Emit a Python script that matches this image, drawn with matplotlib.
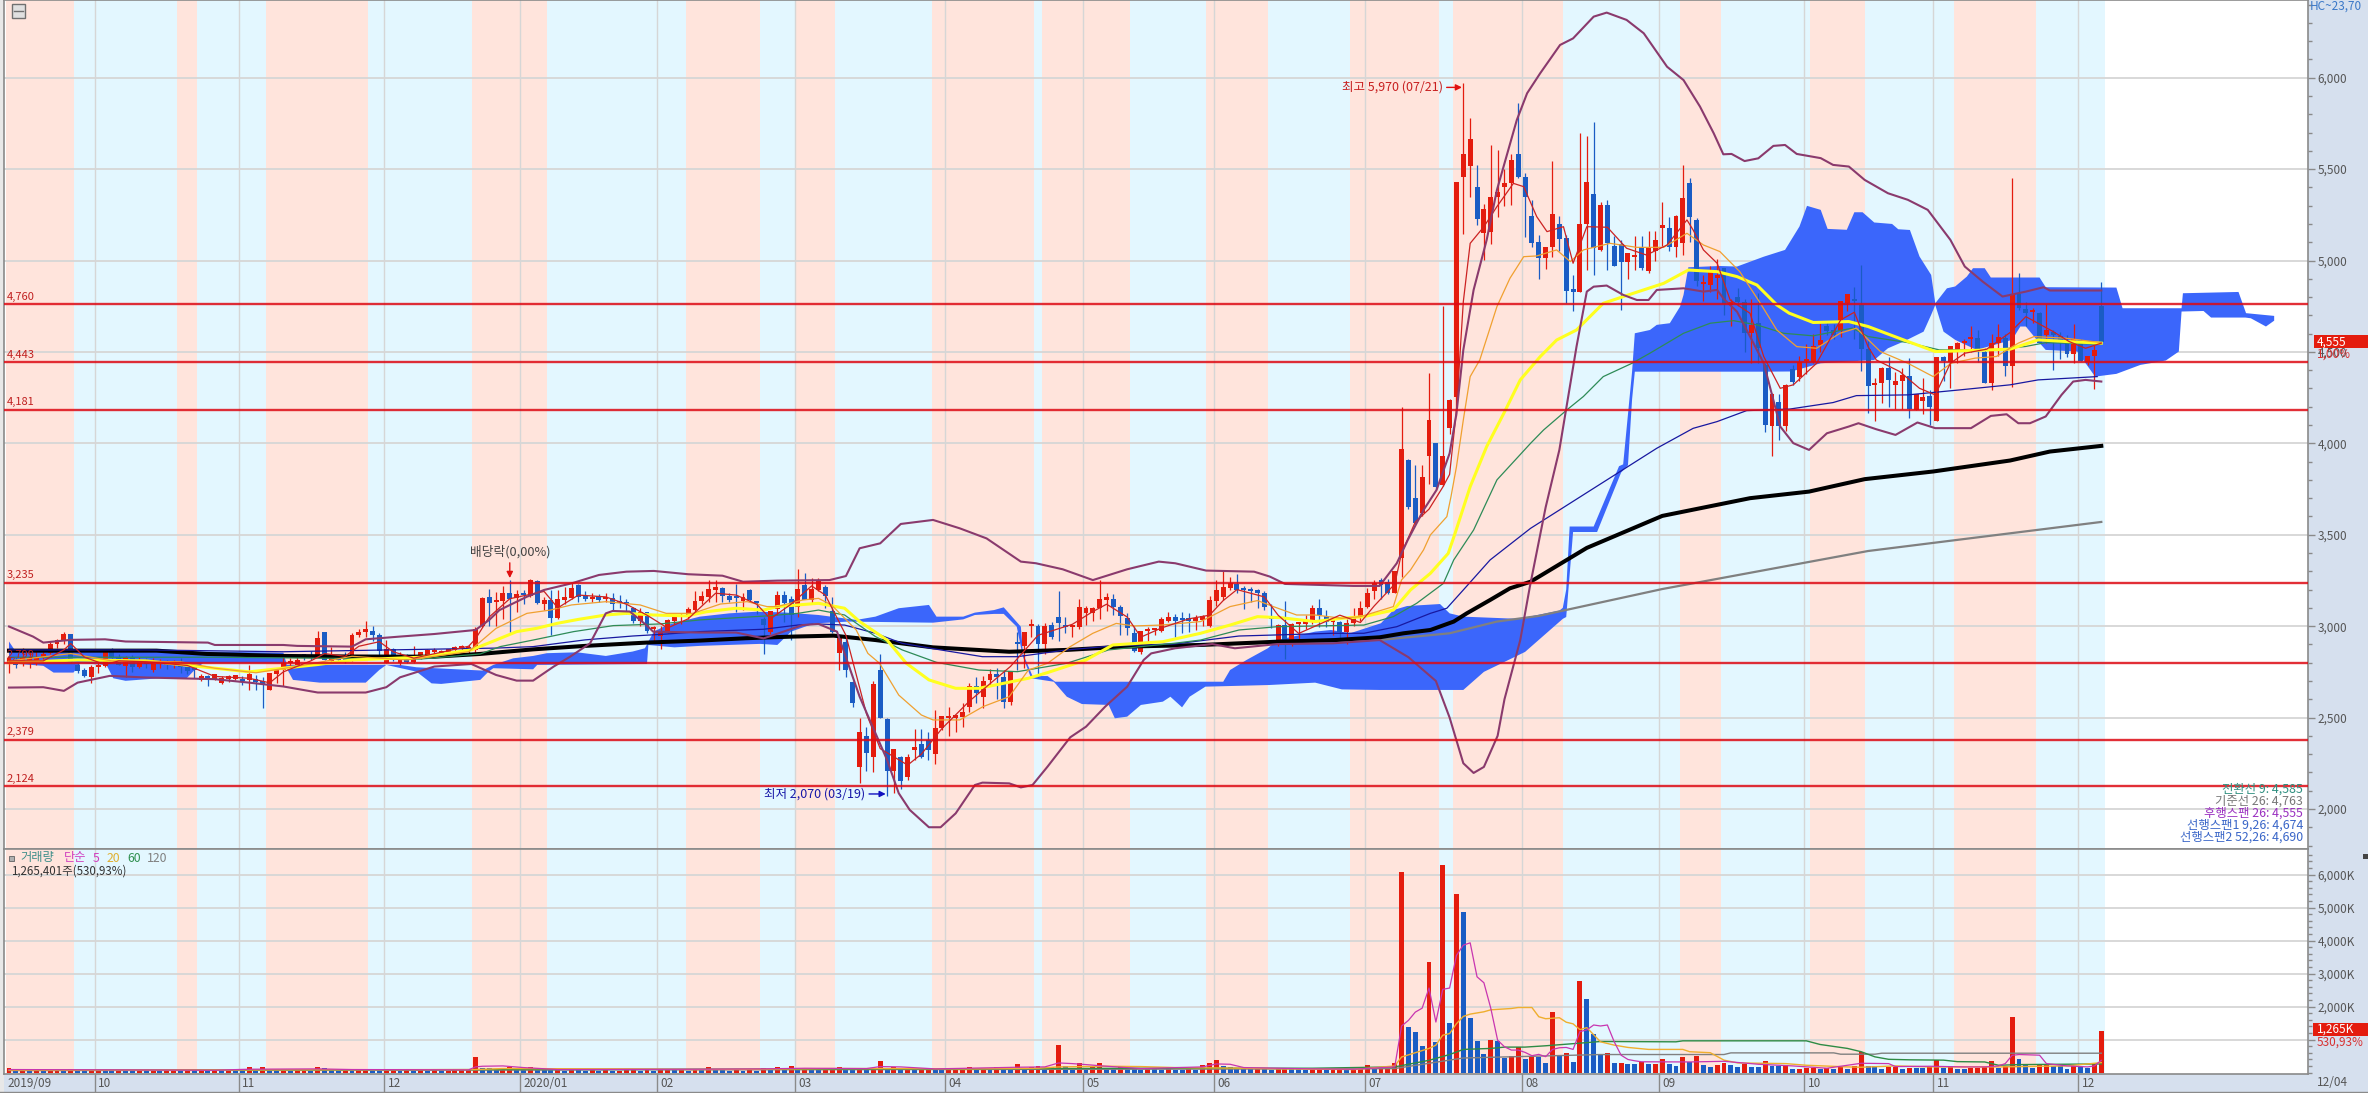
"""Korean stock daily chart: candles, moving averages, Bollinger bands, Ichimoku cloud and volume."""

import matplotlib

matplotlib.use("Agg")

import matplotlib.pyplot as plt
from matplotlib.lines import Line2D
from matplotlib.patches import Rectangle

plt.rcParams["font.family"] = ["Noto Sans CJK KR", "DejaVu Sans"]

WIDTH, HEIGHT = 2368, 1093
AXIS_LEFT, AXIS_RIGHT = 4, 2308
PRICE_BOTTOM, VOLUME_BOTTOM = 849, 1074
FIRST_CANDLE_PX, CANDLE_STEP_PX = 9.0, 6.86

RED, BLUE = "#e41c0e", "#1a5cc4"
PINK_BAND, BLUE_BAND = "#ffe4dc", "#e3f7ff"
GRID, SIDE_BG, AXIS_GRAY = "#d6d6d6", "#d6e0ee", "#8a8a8a"
CLOUD, PURPLE = "#3b66fb", "#8a3a6d"

OPENS = [
    2800, 2810, 2795, 2800, 2810, 2830, 2855, 2905, 2925, 2958,
    2790, 2760, 2720, 2775, 2783, 2860, 2830, 2783, 2830, 2775,
    2808, 2760, 2795, 2800, 2785, 2797, 2779, 2770, 2706, 2730,
    2710, 2690, 2710, 2712, 2710, 2706, 2712, 2700, 2651, 2738,
    2760, 2800, 2790, 2845, 2835, 2834, 2967, 2812, 2830, 2825,
    2812, 2952, 2970, 2976, 2950, 2800, 2875, 2800, 2840, 2806,
    2833, 2837, 2860, 2850, 2852, 2870, 2878, 2875, 2870, 3000,
    3157, 3130, 3140, 3180, 3155, 3172, 3165, 3247, 3123, 3143,
    3043, 3143, 3156, 3225, 3167, 3150, 3165, 3150, 3152, 3130,
    3125, 3097, 3028, 3076, 2985, 2948, 2970, 3028, 3050, 3052,
    3088, 3135, 3160, 3195, 3207, 3165, 3160, 3140, 3198, 3130,
    3037, 2970, 3092, 3170, 3150, 3107, 3225, 3143, 3200, 3212,
    3085, 2855, 2915, 2696, 2228, 2400, 2283, 2760, 2492, 2210,
    2286, 2173, 2320, 2356, 2377, 2300, 2441, 2495, 2500, 2505,
    2556, 2670, 2615, 2705, 2738, 2720, 2587, 2905, 2893, 3000,
    3003, 2903, 3006, 3048, 2998, 2995, 2998, 3070, 3070, 3097,
    3145, 3150, 3107, 3043, 2961, 2860, 2975, 2978, 2975, 3030,
    3050, 3035, 3035, 3030, 3033, 3000, 3140, 3160, 3210, 3231,
    3198, 3196, 3188, 3180, 3045, 2915, 3007, 2915, 3010, 3012,
    3030, 3097, 3057, 3020, 3020, 2970, 3019, 3043, 3107, 3190,
    3253, 3243, 3183, 3371, 3909, 3700, 3617, 3932, 4000, 3772,
    4082, 4255, 5459, 5519, 5400, 5149, 5158, 5349, 5400, 5426,
    5583, 5459, 5244, 5100, 5012, 5072, 5198, 5122, 4840, 4830,
    5198, 5364, 5058, 5304, 5080, 5090, 4994, 5020, 5076, 4940,
    5050, 5180, 5180, 5072, 5098, 5426, 5222, 4870, 4866, 4903,
    4957, 4757, 4802, 4775, 4602, 4657, 4429, 4096, 4225, 4096,
    4407, 4362, 4450, 4447, 4537, 4640, 4620, 4612, 4770, 4785,
    4757, 4515, 4317, 4330, 4410, 4320, 4343, 4368, 4183, 4229,
    4261, 4120, 4471, 4447, 4508, 4550, 4570, 4575, 4502, 4332,
    4550, 4575, 4425, 4817, 4733, 4720, 4712, 4593, 4610, 4585,
    4551, 4489, 4565, 4444, 4478, 4752,
]
HIGHS = [
    2830, 2830, 2880, 2870, 2865, 2870, 2920, 2930, 2970, 2958,
    2800, 2770, 2790, 2800, 2866, 2880, 2850, 2835, 2840, 2830,
    2825, 2825, 2820, 2815, 2815, 2825, 2790, 2780, 2740, 2735,
    2740, 2730, 2735, 2735, 2730, 2785, 2735, 2720, 2745, 2770,
    2840, 2825, 2830, 2850, 2865, 2975, 2970, 2885, 2840, 2860,
    2960, 2985, 3030, 3000, 2960, 2925, 2880, 2860, 2850, 2890,
    2860, 2875, 2880, 2870, 2875, 2890, 2895, 2895, 2997, 3160,
    3205, 3185, 3220, 3250, 3200, 3200, 3260, 3250, 3160, 3200,
    3200, 3215, 3240, 3230, 3190, 3180, 3175, 3180, 3180, 3170,
    3150, 3105, 3100, 3080, 3000, 3000, 3040, 3060, 3070, 3105,
    3190, 3190, 3250, 3250, 3215, 3180, 3230, 3180, 3205, 3140,
    3050, 3085, 3190, 3190, 3165, 3310, 3290, 3265, 3265, 3225,
    3160, 2952, 2950, 2700, 2496, 2450, 2700, 2850, 2500, 2330,
    2290, 2300, 2440, 2440, 2420, 2540, 2510, 2560, 2510, 2580,
    2690, 2720, 2730, 2765, 2770, 2760, 2755, 2970, 2970, 3040,
    3010, 3015, 3020, 3190, 3050, 3005, 3150, 3110, 3105, 3250,
    3180, 3175, 3115, 3070, 3000, 2975, 2995, 2990, 3050, 3080,
    3065, 3075, 3070, 3060, 3060, 3165, 3250, 3300, 3270, 3285,
    3220, 3215, 3205, 3190, 3120, 3010, 3140, 3015, 3025, 3060,
    3115, 3150, 3090, 3045, 3030, 3040, 3100, 3140, 3210, 3250,
    3265, 3260, 3304, 4200, 3915, 3880, 3880, 4383, 4000, 4751,
    4245, 5430, 5970, 5780, 5520, 5310, 5630, 5605, 5500, 5580,
    5860, 5480, 5330, 5140, 5075, 5545, 5245, 5140, 4920, 5700,
    5680, 5760, 5320, 5330, 5135, 5110, 5040, 5135, 5135, 5160,
    5160, 5320, 5240, 5250, 5520, 5450, 5230, 4920, 4970, 5010,
    4960, 4790, 4850, 4790, 4790, 4820, 4440, 4275, 4270, 4325,
    4430, 4475, 4545, 4600, 4660, 4670, 4650, 4780, 4815, 4855,
    4975, 4560, 4360, 4415, 4470, 4390, 4410, 4465, 4270, 4360,
    4290, 4471, 4480, 4535, 4555, 4570, 4640, 4620, 4520, 4600,
    4650, 4600, 5450, 4930, 4775, 4740, 4720, 4760, 4620, 4610,
    4590, 4650, 4570, 4480, 4540, 4880,
]
LOWS = [
    2745, 2770, 2780, 2770, 2790, 2800, 2850, 2880, 2900, 2800,
    2745, 2720, 2690, 2745, 2775, 2810, 2785, 2720, 2750, 2770,
    2770, 2750, 2770, 2765, 2770, 2745, 2740, 2715, 2700, 2670,
    2705, 2685, 2695, 2705, 2680, 2650, 2650, 2550, 2650, 2690,
    2670, 2775, 2775, 2815, 2815, 2830, 2815, 2800, 2810, 2800,
    2810, 2940, 2940, 2920, 2830, 2800, 2810, 2790, 2800, 2800,
    2820, 2830, 2835, 2840, 2840, 2840, 2860, 2840, 2855, 2995,
    3000, 3000, 3040, 2970, 3080, 3120, 3160, 3120, 3090, 2950,
    3040, 3120, 3150, 3130, 3140, 3130, 3130, 3130, 3090, 3100,
    3065, 3015, 3000, 2960, 2915, 2875, 2960, 3010, 3010, 3040,
    3075, 3120, 3130, 3130, 3130, 3130, 3075, 3090, 3130, 3065,
    2845, 2955, 3060, 3020, 2925, 3050, 3150, 3120, 3190, 3100,
    2960, 2760, 2720, 2560, 2140, 2205, 2200, 2496, 2070, 2086,
    2110, 2160, 2270, 2280, 2270, 2245, 2430, 2400, 2420, 2450,
    2530, 2580, 2550, 2680, 2600, 2550, 2570, 2760, 2770, 2940,
    2720, 2850, 2930, 2920, 2960, 2940, 2985, 3005, 3030, 3040,
    3085, 3060, 2950, 2950, 2860, 2850, 2900, 2950, 2970, 3020,
    2940, 2960, 2970, 2980, 3000, 2995, 3110, 3145, 3200, 3180,
    3095, 3130, 3100, 3090, 2990, 2890, 2820, 2890, 2930, 2985,
    3010, 2995, 2995, 2950, 2920, 2900, 3000, 3030, 3100, 3150,
    3150, 3175, 3180, 3270, 3640, 3560, 3600, 3780, 3750, 3765,
    4050, 4150, 5145, 5350, 5195, 5003, 5090, 5240, 5300, 5305,
    5450, 5130, 5075, 4900, 4955, 5020, 5050, 4770, 4725, 4830,
    4950, 4920, 5050, 4950, 4970, 4730, 4900, 4950, 4950, 4930,
    5000, 5080, 5050, 5020, 5030, 5100, 4860, 4780, 4830, 4790,
    4700, 4640, 4750, 4500, 4440, 4440, 4060, 3928, 4020, 4070,
    4320, 4340, 4380, 4440, 4500, 4590, 4570, 4580, 4725, 4570,
    4395, 4165, 4120, 4220, 4200, 4190, 4190, 4140, 4180, 4160,
    4100, 4120, 4340, 4300, 4440, 4480, 4500, 4445, 4330, 4290,
    4480, 4370, 4310, 4730, 4640, 4660, 4550, 4550, 4400, 4460,
    4470, 4440, 4450, 4430, 4295, 4550,
]
CLOSES = [
    2825, 2790, 2830, 2825, 2825, 2850, 2905, 2925, 2955, 2806,
    2757, 2728, 2775, 2786, 2866, 2825, 2788, 2830, 2775, 2815,
    2795, 2800, 2800, 2790, 2810, 2775, 2755, 2762, 2728, 2710,
    2740, 2715, 2725, 2735, 2698, 2740, 2697, 2682, 2742, 2760,
    2797, 2812, 2815, 2825, 2830, 2934, 2815, 2834, 2815, 2806,
    2952, 2970, 2975, 2950, 2866, 2875, 2830, 2830, 2806, 2842,
    2860, 2870, 2866, 2860, 2875, 2885, 2880, 2880, 2985, 3155,
    3128, 3130, 3180, 3147, 3175, 3168, 3253, 3125, 3143, 3043,
    3147, 3158, 3210, 3160, 3150, 3160, 3143, 3158, 3120, 3125,
    3120, 3028, 3080, 2974, 2990, 2970, 3032, 3052, 3058, 3092,
    3138, 3165, 3205, 3212, 3165, 3143, 3155, 3158, 3143, 3125,
    3005, 3085, 3170, 3125, 3062, 3201, 3143, 3201, 3252, 3167,
    2970, 2952, 2760, 2578, 2420, 2305, 2684, 2496, 2210, 2330,
    2155, 2283, 2337, 2286, 2320, 2441, 2510, 2505, 2505, 2532,
    2670, 2637, 2702, 2738, 2720, 2587, 2752, 2900, 2970, 3005,
    2903, 3000, 2940, 3015, 2995, 2998, 3107, 3097, 3098, 3148,
    3150, 3107, 3057, 2992, 2864, 2972, 2980, 2985, 3037, 3052,
    3030, 3032, 3030, 3035, 3057, 3143, 3198, 3212, 3238, 3198,
    3195, 3190, 3183, 3107, 3040, 3007, 2915, 3012, 3015, 3030,
    3097, 3060, 3025, 3033, 2970, 3019, 3043, 3098, 3183, 3235,
    3225, 3180, 3304, 3967, 3650, 3566, 3814, 4128, 3763, 3931,
    4237, 5430, 5583, 5663, 5225, 5280, 5349, 5377, 5426, 5550,
    5459, 5349, 5098, 5012, 5072, 5255, 5118, 4835, 4830, 5198,
    5430, 5067, 5304, 5098, 4970, 4994, 5040, 5030, 4957, 5076,
    5112, 5185, 5072, 5244, 5340, 5240, 4890, 4885, 4940, 4920,
    4762, 4775, 4775, 4602, 4648, 4520, 4100, 4270, 4096, 4320,
    4338, 4447, 4460, 4535, 4565, 4617, 4593, 4780, 4815, 4780,
    4515, 4314, 4328, 4410, 4347, 4343, 4375, 4187, 4270, 4256,
    4201, 4471, 4453, 4535, 4548, 4555, 4580, 4511, 4332, 4550,
    4580, 4425, 4812, 4740, 4715, 4727, 4551, 4620, 4595, 4551,
    4489, 4570, 4453, 4475, 4508, 4555,
]
VOLUMES = [
    150, 60, 80, 60, 70, 60, 70, 80, 60, 100,
    60, 50, 60, 70, 60, 50, 70, 60, 50, 70,
    60, 70, 50, 60, 70, 50, 60, 50, 70, 60,
    70, 50, 80, 60, 50, 160, 60, 170, 70, 60,
    80, 50, 70, 90, 60, 170, 130, 70, 50, 90,
    60, 70, 120, 60, 50, 60, 80, 60, 70, 50,
    70, 60, 70, 50, 60, 70, 80, 100, 480, 150,
    130, 100, 120, 180, 120, 90, 180, 130, 110, 80,
    90, 60, 100, 70, 60, 80, 60, 70, 50, 60,
    70, 80, 60, 70, 60, 80, 100, 70, 80, 60,
    120, 70, 170, 100, 80, 60, 70, 60, 70, 60,
    150, 80, 180, 120, 210, 130, 150, 100, 90, 110,
    120, 160, 140, 110, 120, 100, 130, 360, 150, 170,
    120, 130, 100, 110, 130, 100, 90, 110, 120, 130,
    180, 120, 130, 110, 170, 140, 120, 260, 130, 170,
    200, 130, 160, 820, 200, 110, 300, 140, 180, 280,
    150, 120, 170, 130, 100, 90, 120, 100, 80, 110,
    90, 80, 100, 70, 240, 300, 380, 200, 170, 140,
    120, 100, 130, 110, 90, 120, 140, 110, 100, 90,
    110, 120, 90, 100, 120, 110, 120, 120, 220, 120,
    120, 120, 300, 6090, 1390, 1240, 790, 3360, 910, 6300,
    1515, 5420, 4850, 1640, 970, 575, 1000, 970, 425, 515,
    760, 395, 515, 475, 303, 1820, 505, 605, 333, 2760,
    2240, 1180, 545, 605, 303, 303, 273, 270, 333, 270,
    270, 395, 270, 210, 485, 320, 515, 240, 180, 240,
    290, 230, 160, 270, 180, 170, 360, 210, 205, 215,
    120, 120, 140, 140, 100, 140, 120, 200, 120, 200,
    620, 190, 185, 120, 170, 175, 120, 140, 135, 130,
    170, 370, 140, 200, 120, 115, 140, 150, 155, 360,
    150, 200, 1670, 420, 220, 150, 220, 225, 200, 195,
    120, 200, 170, 140, 290, 1265,
]

# Line vertices: candle position and value.
BB_UPPER_X = [
    0, 3.5, 5, 9, 14, 17, 29, 30, 40, 42, 50, 52, 57, 62, 68, 70, 71.5, 75.5, 78, 82,
    86, 90, 94, 99, 104, 107, 112, 119.6, 122, 124, 127, 130, 134.7, 138.6, 142.5,
    147.5, 149.7, 153.6, 158, 163, 167.6, 170, 174.5, 181.5, 183.8, 186, 196, 199.8,
    202.3, 203.9, 206.2, 208.1, 210, 211, 212, 213.5, 215.4, 216.9, 219.8, 221.3,
    223.2, 226.1, 228, 231, 232.9, 235.8, 238.3, 241.7, 244.1, 246.5, 248.5, 249.9,
    251.1, 253, 255, 257.2, 258.9, 260.6, 264.1, 265.9, 268.2, 270.5, 273.9, 276.8,
    279.7, 283, 285.1, 287.7, 290.6, 294, 296.6, 297.5, 305,
]
BB_UPPER_Y = [
    2998, 2943, 2910, 2925, 2928, 2916, 2910, 2897, 2897, 2892, 2888, 2928, 2943, 2957, 2979, 3034, 3088, 3161, 3198, 3234,
    3280, 3298, 3302, 3284, 3276, 3243, 3249, 3252, 3274, 3426, 3453, 3559, 3581, 3535, 3480,
    3353, 3344, 3311, 3252, 3311, 3353, 3344, 3304, 3298, 3271, 3231, 3220, 3220,
    3344, 3471, 3635, 3745, 3945, 4164, 4511, 4839, 5112, 5386, 5769, 5915,
    6024, 6179, 6215, 6334, 6356, 6316, 6243, 6060, 5987, 5842, 5696, 5581,
    5583, 5544, 5559, 5627, 5632, 5583, 5560, 5523, 5514, 5441, 5368, 5332,
    5277, 5113, 4967, 4885, 4803, 4830, 4854, 4836, 4836,
]
BB_LOWER_X = [
    0, 5, 8, 10, 14.7, 20, 30, 35, 40, 45, 52, 55, 57, 62, 67.4, 71, 74, 76.4, 79.4, 81.8,
    84.7, 87, 88, 90.5, 92.9, 93.9, 100.7, 106, 110, 115.7, 118, 120.7, 124, 128, 129.7,
    131.3, 134.1, 135.8, 138, 140.8, 141.9, 145.8, 147.5, 149.2, 151.4, 154.7, 157, 159.8, 163, 165.4,
    166.5, 170, 175.4, 178.7, 184.9, 193, 199.8, 204, 208, 210, 212, 213.5, 215, 217, 218,
    220.3, 221.7, 224, 226, 228.5, 230, 231, 232.9, 235.3, 237.3, 239, 240.2, 244.1, 247, 249,
    249.9, 251.9, 253.8, 255.8, 258.2, 260.1, 262.4, 265, 268.2, 269.6, 272.2, 275, 278.2, 280.8, 286,
    288.9, 291.2, 292.9, 294.6, 296.9, 299.2, 300.9, 302.7, 305,
]
BB_LOWER_Y = [
    2664, 2666, 2646, 2691, 2728, 2719, 2710, 2691, 2670, 2637, 2637, 2666, 2720, 2779, 2793, 2733, 2702, 2702, 2779, 2833,
    2906, 3070, 3083, 3080, 3006, 2970, 2965, 2965, 2933, 3006, 3012, 2970, 2614, 2268, 2086,
    1995, 1900, 1900, 1976, 2131, 2144, 2140, 2118, 2131, 2232, 2392, 2450, 2560, 2669, 2815,
    2851, 2879, 2902, 2879, 2902, 2906, 2924, 2830, 2700, 2500, 2250, 2197, 2230, 2400, 2600,
    2924, 3216, 3650, 3964, 4529, 4830, 4857, 4863, 4812, 4784, 4784, 4839, 4848, 4830, 4839,
    4793, 4720, 4584, 4438, 4092, 4001, 3964, 4055, 4092, 4110, 4077, 4046, 4114, 4083, 4083,
    4150, 4159, 4110, 4110, 4147, 4265, 4338, 4347, 4338,
]
MA5_X = [
    0, 5, 8, 9, 11, 14, 16, 20, 26, 30, 35, 38, 40, 44, 46, 49, 51, 54, 56, 59,
    64, 67, 68, 70, 73, 78, 80, 83, 87, 90, 93, 96, 99, 103, 106, 109, 111, 114, 117, 119,
    122, 125, 127, 131, 133, 136, 140, 146, 150, 155, 158, 160, 163, 165, 168, 172, 175, 177, 179, 183,
    185, 188, 191, 194, 197, 199, 201, 202, 203, 205, 207, 209, 210, 211, 212,
    213, 215, 216.9, 219.3, 220.8, 222.7, 224.2, 226.6, 228, 230, 233, 235.8, 238.7, 241.7, 244.6,
    245.5, 247, 249, 250.9, 253.8, 255.8, 258.2, 260.1, 263.5, 267, 269, 271, 272.2, 275.6, 278.5,
    280.8, 283, 285.1, 288.3, 291.7, 294, 298, 300.3, 302.7, 305,
]
MA5_Y = [
    2810, 2810, 2870, 2905, 2830, 2790, 2810, 2805, 2785, 2725, 2715, 2690, 2750, 2810, 2850, 2835, 2890, 2915, 2860, 2825,
    2865, 2890, 2930, 3050, 3150, 3190, 3100, 3170, 3160, 3120, 3060, 2990, 3040, 3180, 3170, 3120, 3040, 3120, 3220, 3170,
    2950, 2520, 2330, 2240, 2300, 2440, 2590, 2780, 2950, 3010, 3080, 3120, 3050, 2940, 2990, 3040, 3060, 3140, 3200, 3160,
    3060, 2960, 3010, 3060, 3020, 3110, 3190, 3230, 3400, 3570, 3640, 3760, 3830, 4180, 4775,
    5094, 5185, 5295, 5422, 5404, 5240, 5158, 5185, 4985, 5185, 5182, 5067, 5030, 5085, 5222,
    5167, 5058, 4985, 4784, 4711, 4474, 4301, 4320, 4438, 4675, 4717, 4529, 4456, 4393, 4301,
    4265, 4438, 4493, 4515, 4606, 4693, 4611, 4557, 4520, 4548,
]
MA20_X = [
    0, 9, 15, 25, 30, 36, 42, 50, 58, 67, 71, 75.5, 78.9, 82, 87, 92, 95.8, 99.7, 103.7, 107.6,
    110.5, 112, 115.7, 118, 119.9, 123.5, 125.2, 126.9, 129.7, 133, 134.7, 138.6, 142, 145.8, 148.6,
    151.4, 154.7, 158, 161.4, 164, 168, 173.7, 178, 182, 184.3, 187.7, 190.4, 194.3, 197, 201.8,
    203, 204.3, 206.2, 207.2, 209.6, 210.2, 211, 212, 213, 214.4, 216.9, 218.8, 220.8, 222.7, 225.6,
    227.6, 229.5, 233.4, 237.3, 241.2, 244.6, 247, 249.4, 252.3, 255.3, 257.7, 260.6, 263.5, 266.9, 269.3,
    272.8, 276.8, 280.5, 283.1, 286.6, 289.7, 292.9, 295.2, 299.8, 305,
]
MA20_Y = [
    2810, 2850, 2810, 2805, 2770, 2745, 2780, 2835, 2815, 2860, 2988, 3070, 3088, 3116, 3134, 3116, 3070, 3070, 3121, 3134,
    3107, 3107, 3143, 3152, 3116, 2979, 2851, 2797, 2623, 2514, 2487, 2487, 2560, 2614, 2760,
    2797, 2888, 2961, 3015, 3001, 3006, 3025, 3107, 3140, 3107, 3061, 3061, 3043, 3052, 3107,
    3253, 3307, 3417, 3499, 3599, 3708, 3872, 4128, 4365, 4456, 4748, 4903, 5021, 5025, 5058,
    4994, 5058, 5094, 5072, 5072, 5149, 5085, 5049, 4939, 4766, 4620, 4529, 4520, 4602, 4630,
    4502, 4438, 4365, 4438, 4466, 4475, 4548, 4584, 4575, 4551,
]
MA60_X = [
    0, 10, 20, 30, 35, 40, 45, 50, 60, 67.4, 71, 74, 76.9, 80, 83, 87, 90, 93.9, 98.8, 101.7,
    106, 110, 112, 118, 121.8, 124, 128, 130.8, 134.1, 138, 141.4, 148.6, 151.4, 157, 160.9,
    168.2, 173.7, 178, 182, 185.4, 190.4, 194.3, 197.5, 201.8, 204.3, 207.2, 209.8, 210.8, 213, 215.4,
    217.9, 220.3, 223.2, 225.6, 228.5, 232.4, 236.8, 241.2, 244.8, 249, 251.9, 254.8, 257.7, 259.5, 263,
    268.2, 271, 276.8, 280.8, 285.4, 291.7, 295.8, 299.8, 305,
]
MA60_Y = [
    2800, 2815, 2810, 2770, 2750, 2770, 2790, 2815, 2830, 2870, 2924, 2970, 2988, 3016, 3037, 3061, 3070, 3061, 3056, 3079,
    3098, 3088, 3107, 3125, 3098, 3025, 2924, 2797, 2706, 2660, 2660, 2715, 2746, 2815, 2897,
    2915, 2961, 3006, 3052, 3046, 3025, 3043, 3052, 3088, 3198, 3289, 3398, 3508, 3763, 3982,
    4164, 4347, 4474, 4565, 4620, 4766, 4821, 4875, 4948, 4939, 4912, 4866, 4757, 4712, 4661,
    4666, 4639, 4557, 4502, 4507, 4515, 4566, 4557, 4548,
]
MA120_X = [
    0, 30, 60, 68.7, 71.6, 76.4, 82.3, 88.1, 94.9, 100.7, 110.5, 115, 118, 121.8, 126.3,
    130.2, 135.2, 141.4, 147, 154.2, 160.3, 169.8, 173.7, 179.3, 184.9, 197.5, 201.8, 205.2, 209.1, 210.6,
    213.5, 216.9, 221.8, 223.7, 227.1, 229.5, 232.4, 236.6, 239.2, 244.1, 248, 251.4, 254.8, 258.7, 263,
    268.7, 271, 276.8, 281.4, 289.4, 294, 296.9, 305,
]
MA120_Y = [
    2830, 2830, 2820, 2848, 2888, 2924, 2970, 3003, 3012, 3034, 3056, 3070, 3088, 3061, 2943,
    2870, 2802, 2760, 2751, 2797, 2870, 2906, 2924, 2979, 2997, 3006, 3052, 3125, 3234, 3362,
    3526, 3800, 4000, 4073, 4183, 4256, 4365, 4438, 4493, 4602, 4657, 4671, 4648, 4602, 4588,
    4630, 4584, 4551, 4511, 4511, 4530, 4551, 4542,
]
MA240_X = [
    0, 20, 40, 71, 76.4, 84, 90.9, 95.9, 100.7, 110, 115, 118, 121.8, 126.3, 130.2,
    135.8, 141.9, 147, 154.2, 160.9, 169.8, 179.3, 184.9, 193, 197.5, 202.3, 207.2, 209.6, 212, 215.9,
    221.8, 240.2, 245.5, 249, 253.3, 259.5, 265.9, 269.3, 276.8, 284.3, 291.7, 295.8, 304.4,
]
MA240_Y = [
    2870, 2870, 2860, 2880, 2888, 2925, 2946, 2957, 2970, 2983, 3006, 3012, 3006, 2961, 2906,
    2870, 2833, 2833, 2870, 2892, 2902, 2946, 2952, 2961, 2961, 2997, 3070, 3098, 3198, 3362,
    3535, 3973, 4082, 4119, 4179, 4187, 4223, 4261, 4265, 4292, 4320, 4347, 4365,
]
MA480_X = [
    0, 21.5, 28.8, 40, 49.7, 62, 68.7, 76.4, 84, 92.9, 100.7, 107.5, 114.3, 120.2, 126.3,
    134.7, 145.8, 154.2, 162.6, 173.7, 184.9, 193.3, 199.8, 203.3, 207.2, 210.6, 212.5, 215.9, 218.8, 221.8,
    230, 241, 253.8, 262.4, 270.5, 280.5, 291.7, 297.5, 305,
]
MA480_Y = [
    2866, 2866, 2848, 2837, 2834, 2833, 2848, 2873, 2892, 2910, 2921, 2934, 2943, 2948, 2924,
    2884, 2860, 2870, 2888, 2897, 2915, 2924, 2939, 2961, 2979, 3025, 3070, 3143, 3207, 3243,
    3428, 3603, 3700, 3736, 3804, 3846, 3906, 3955, 3986,
]
MA960_X = [150, 160, 170, 180, 190, 200, 207, 210, 216.9, 223, 241, 271, 305]
MA960_Y = [2866, 2880, 2895, 2905, 2915, 2925, 2950, 2961, 3025, 3056, 3203, 3411, 3570]

CLOUD_TOP_X = [
    0, 1, 10, 21, 28, 40, 40.5, 47, 54, 57, 59.4, 69, 70.6, 73.5, 76.4,
    78.4, 82.8, 87, 90.9, 92.7, 93.2, 94, 95.9, 100.7, 105, 109, 113, 118, 123.5, 126.3,
    129.7, 134.1, 135.2, 139.1, 140.8, 143.6, 145, 146, 147.5, 147.8, 149.2, 151.4, 152.5, 177, 178,
    180.4, 183.5, 184.9, 190.4, 192.7, 195.5, 200, 201.8, 203.8, 208.6, 210, 212, 220, 226, 226.5,
    227, 227.5, 231, 234.7, 235.3, 236.6, 237, 239.2, 240.2, 242.1, 243.6, 244.1, 244.8, 249.4, 251.9,
    255.8, 258.9, 261, 262.1, 264.1, 265.1, 267.9, 269, 270.2, 271.9, 274.5, 275.4, 277.1, 278.5, 280.2,
    280.8, 282.5, 283.7, 285.4, 286.3, 288, 288.9, 296, 296.9, 307.2, 308.1, 316.7, 316.9, 325, 326.1,
    330.2,
]
CLOUD_TOP_Y = [
    2916, 2860, 2870, 2866, 2861, 2855, 2788, 2788, 2788, 2788, 2775, 2757, 2788, 2824, 2837,
    2852, 2857, 2837, 2861, 2879, 2915, 2970, 3006, 3052, 3070, 3079, 3075, 3061, 3034, 3052,
    3098, 3116, 3052, 3052, 3074, 3088, 3103, 3061, 2997, 2851, 2727, 2727, 2696, 2696, 2760,
    2815, 2879, 2924, 2970, 2979, 2961, 3016, 3088, 3110, 3121, 3070, 3052, 3040, 3085, 3100,
    3200, 3545, 3545, 3875, 3885, 4392, 4602, 4620, 4648, 4657, 4748, 4812, 4963, 4970, 4967,
    5021, 5058, 5186, 5299, 5277, 5173, 5168, 5264, 5264, 5208, 5200, 5171, 5167, 5022, 4921,
    4766, 4848, 4858, 4912, 4958, 4958, 4907, 4907, 4854, 4852, 4739, 4739, 4821, 4828, 4712,
    4697,
]
CLOUD_BOTTOM_X = [
    0, 5, 6.5, 9.4, 10.4, 14.2, 15.2, 17, 22, 25.9, 27.3, 28.3, 40, 40.6, 41.4,
    45.3, 52, 54, 55, 59.4, 61.6, 63, 68.7, 69.9, 70.6, 76.4, 77, 93, 93.2, 97,
    100.7, 109.5, 112, 114, 117.4, 122.4, 134.7, 139.1, 140.8, 143.6, 145, 146.9, 147.8, 149, 152.3,
    154.2, 156.4, 160.3, 161.2, 163, 165, 168.2, 169.3, 171, 172.1, 174.4, 183.7, 190.4, 194.3, 199.8,
    205, 212, 215, 221, 226.5, 227, 228, 231.5, 235, 236, 236.6, 237, 255.8, 259.8, 264.1,
    271.9, 273.9, 276.2, 279.1, 280.2, 280.8, 282, 283.7, 286.8, 292, 293.2, 294, 295.8, 296.9, 301.5,
    304.1, 307.2, 310.7, 314.4, 316.3, 316.7, 319.9, 321, 326, 326.8, 329, 330.2,
]
CLOUD_BOTTOM_Y = [
    2797, 2783, 2746, 2746, 2797, 2788, 2715, 2701, 2715, 2715, 2770, 2797, 2797, 2761, 2706,
    2691, 2691, 2761, 2788, 2751, 2687, 2684, 2706, 2751, 2770, 2764, 2788, 2793, 2897, 2884,
    2892, 2903, 2897, 2970, 3015, 3025, 3019, 3037, 3061, 3067, 3067, 2997, 2833, 2715, 2696,
    2614, 2574, 2569, 2496, 2505, 2569, 2587, 2614, 2556, 2614, 2669, 2678, 2691, 2654, 2651,
    2651, 2651, 2750, 2859, 3040, 3050, 3515, 3515, 3840, 3880, 4240, 4392, 4392, 4393, 4438,
    4456, 4520, 4557, 4611, 4703, 4757, 4611, 4566, 4511, 4566, 4639, 4639, 4557, 4511, 4502,
    4365, 4380, 4429, 4453, 4502, 4721, 4724, 4688, 4688, 4684, 4639, 4671,
]

VOL_MA5_X = [
    0, 30, 35, 45, 50, 67, 68, 69, 72, 75, 80, 100, 110, 116, 125, 127, 130, 135, 147, 151,
    153, 155, 157, 160, 165, 174, 176, 178, 180, 190, 196, 202, 203, 204, 205, 206, 207, 208, 209, 210,
    211, 212, 213, 214, 215, 216, 217, 218, 219, 220, 221, 222, 223, 224, 225, 226, 227, 228, 229, 230,
    231, 232, 233, 234, 235, 236, 237, 238, 245, 250, 255, 260, 265, 270, 274, 275, 280, 285, 288, 290,
    291, 292, 293, 296, 297, 300, 303, 304, 305,
]
VOL_MA5_Y = [
    90, 70, 100, 110, 90, 80, 170, 190, 200, 150, 90, 100, 110, 130, 120, 180, 170, 110, 160, 170,
    290, 270, 240, 190, 120, 170, 260, 250, 150, 110, 100, 170, 1410, 1580, 1830, 1950, 2560, 1530, 2520, 2560,
    3550, 3860, 3930, 2900, 2720, 1950, 980, 780, 680, 680, 610, 510, 550, 480, 700, 750, 760, 700, 1240, 1290,
    1440, 1410, 1440, 930, 525, 395, 355, 325, 320, 340, 250, 200, 130, 280, 270, 180, 190, 170, 170, 200,
    270, 520, 545, 525, 270, 200, 170, 200, 370,
]
VOL_MA20_X = [
    0, 68, 72, 80, 90, 100, 110, 120, 130, 140, 150, 153, 160, 165, 170, 180, 190, 196, 202, 203,
    205, 207, 208, 209, 210, 211, 212, 213, 215, 216, 219, 220, 222, 223, 224, 226, 227, 228, 229, 230,
    232, 234, 236, 239, 244, 245, 248, 250, 252, 259, 262, 268, 270, 275, 280, 290, 300, 305,
]
VOL_MA20_Y = [
    70, 90, 120, 115, 110, 90, 100, 120, 120, 110, 130, 170, 190, 180, 150, 130, 100, 90, 200, 470,
    600, 730, 830, 1130, 1180, 1480, 1700, 1770, 1840, 1900, 1940, 1970, 1970, 1690, 1630, 1660, 1525, 1475, 1300, 1360,
    930, 830, 760, 700, 700, 630, 600, 375, 290, 270, 220, 170, 160, 200, 170, 170, 200, 300,
]
VOL_MA60_X = [
    0, 30, 60, 100, 140, 165, 190, 202, 207, 210, 212, 216, 218, 221, 224, 229, 232, 243, 244, 262,
    264, 268, 270, 272, 274, 277, 282, 284, 288, 290, 293, 305,
]
VOL_MA60_Y = [
    70, 85, 85, 100, 110, 130, 130, 170, 370, 545, 700, 730, 770, 770, 810, 890, 940, 930, 960, 960,
    850, 730, 630, 475, 400, 385, 375, 330, 320, 220, 240, 260,
]
VOL_MA120_X = [0, 100, 165, 196, 202, 212, 232, 250, 251, 266, 267, 272, 273, 305]
VOL_MA120_Y = [60, 80, 100, 110, 120, 440, 545, 545, 595, 595, 555, 555, 585, 585]

# Alternating pink / blue background bands, edges in candle positions.
BAND_EDGES = [
    -0.5, 9.5, 24.5, 27.4, 37.5, 52.3, 67.5, 78.4, 98.7, 109.5, 114.7, 120.4, 134.5, 149.4, 150.6,
    163.4, 174.5, 183.5, 195.5, 208.5, 210.5, 226.5, 243.6, 249.6, 262.5, 270.5, 283.5, 295.5, 305.5,
]
MONTH_TICKS = [12.5, 33.5, 54.7, 74.5, 94.5, 114.6, 136.4, 156.6, 175.7, 197.7, 220.6, 240.5, 261.7, 280.5, 301.6]
MONTH_LABELS = ["10", "11", "12", "2020/01", "02", "03", "04", "05", "06", "07", "08", "09", "10", "11", "12"]

LEVEL_VALUES = [4760, 4443, 4181, 3235, 2799, 2379, 2124]
LEVEL_LABELS = ["4,760", "4,443", "4,181", "3,235", "2,799", "2,379", "2,124"]
PRICE_TICKS = [2000, 2500, 3000, 3500, 4000, 4500, 5000, 5500, 6000]
PRICE_TICK_LABELS = ["2,000", "2,500", "3,000", "3,500", "4,000", "4,500", "5,000", "5,500", "6,000"]
VOLUME_TICKS = [1000, 2000, 3000, 4000, 5000, 6000]
VOLUME_TICK_LABELS = ["", "2,000K", "3,000K", "4,000K", "5,000K", "6,000K"]

ICHIMOKU_LEGEND = [
    ("전환선 9: 4,585", "#2f8f80"),
    ("기준선 26: 4,763", "#777777"),
    ("후행스팬 26: 4,555", "#9a2fc0"),
    ("선행스팬1 9,26: 4,674", "#3a66c8"),
    ("선행스팬2 52,26: 4,690", "#3a66c8"),
]
VOLUME_LEGEND = [
    ("거래량", 20, "#3f8f8a"),
    ("단순", 64, "#d040c0"),
    ("5", 93, "#d040c0"),
    ("20", 107, "#e0b030"),
    ("60", 127, "#2f9050"),
    ("120", 147, "#808080"),
]


def px_to_position(px: float) -> float:
    return (px - FIRST_CANDLE_PX) / CANDLE_STEP_PX


def add_axes_px(fig, left, top, right, bottom):
    return fig.add_axes([left / WIDTH, 1 - bottom / HEIGHT, (right - left) / WIDTH, (bottom - top) / HEIGHT])


def fig_text(fig, x, y, text, **kwargs):
    fig.text(x / WIDTH, 1 - y / HEIGHT, text, va="center", **kwargs)


def fig_rect(fig, left, top, right, bottom, **kwargs):
    fig.add_artist(
        Rectangle((left / WIDTH, 1 - bottom / HEIGHT), (right - left) / WIDTH, (bottom - top) / HEIGHT,
                  transform=fig.transFigure, **kwargs)
    )


def style_panel(ax, ticks, tick_labels, minor_ticks):
    for index, (start, end) in enumerate(zip(BAND_EDGES[:-1], BAND_EDGES[1:])):
        ax.axvspan(start, end, color=PINK_BAND if index % 2 == 0 else BLUE_BAND, lw=0, zorder=0)
    for tick in MONTH_TICKS:
        ax.axvline(tick, color=GRID, lw=1.0, zorder=1)
    for tick in ticks:
        ax.axhline(tick, color=GRID, lw=1.3, zorder=1)

    ax.set_xlim(px_to_position(AXIS_LEFT), px_to_position(AXIS_RIGHT))
    ax.set_xticks([])
    ax.yaxis.tick_right()
    ax.set_yticks(ticks)
    ax.set_yticklabels(tick_labels, fontsize=8.5, color="#555555")
    ax.set_yticks(minor_ticks, minor=True)
    ax.tick_params(axis="y", which="major", length=5, width=1, color=AXIS_GRAY, pad=2)
    ax.tick_params(axis="y", which="minor", length=3, width=1, color=AXIS_GRAY)
    for spine in ax.spines.values():
        spine.set_color(AXIS_GRAY)
        spine.set_linewidth(1.2)


def draw_candles(ax):
    positions = range(len(CLOSES))
    colors = [RED if close >= open_ else BLUE for open_, close in zip(OPENS, CLOSES)]
    ax.vlines(positions, LOWS, HIGHS, colors=colors, lw=0.9, zorder=3)
    bottoms = [min(open_, close) for open_, close in zip(OPENS, CLOSES)]
    heights = [max(abs(close - open_), 12) for open_, close in zip(OPENS, CLOSES)]
    ax.bar(positions, heights, bottom=bottoms, width=0.72, color=colors, lw=0, zorder=3)


def draw_price_panel(ax):
    style_panel(ax, PRICE_TICKS, PRICE_TICK_LABELS, range(1800, 6500, 100))
    ax.set_ylim(1781, 6425)

    ax.fill(CLOUD_TOP_X + CLOUD_BOTTOM_X[::-1], CLOUD_TOP_Y + CLOUD_BOTTOM_Y[::-1], color=CLOUD, lw=0, zorder=2)
    draw_candles(ax)

    ax.plot(MA960_X, MA960_Y, color="#808080", lw=1.6, zorder=4)
    ax.plot(MA480_X, MA480_Y, color="#000000", lw=2.9, zorder=4)
    ax.plot(MA240_X, MA240_Y, color="#1818a0", lw=0.9, zorder=4)
    ax.plot(MA120_X, MA120_Y, color="#2e8b57", lw=0.9, zorder=4)
    ax.plot(MA60_X, MA60_Y, color="#ffff20", lw=2.2, zorder=4)
    ax.plot(MA20_X, MA20_Y, color="#f0a030", lw=0.9, zorder=4)
    ax.plot(MA5_X, MA5_Y, color="#cc2222", lw=0.9, zorder=4)
    ax.plot(BB_UPPER_X, BB_UPPER_Y, color=PURPLE, lw=1.5, zorder=5)
    ax.plot(BB_LOWER_X, BB_LOWER_Y, color=PURPLE, lw=1.5, zorder=5)

    for value, label in zip(LEVEL_VALUES, LEVEL_LABELS):
        ax.axhline(value, color="#dd0a14", lw=1.7, alpha=0.85, zorder=6)
        ax.annotate(label, (0, value), xycoords=ax.get_yaxis_transform(), xytext=(2, 2),
                    textcoords="offset points", fontsize=8, color="#c02020", va="bottom", zorder=7)

    ax.annotate("최고 5,970 (07/21)", xy=(211.8, 5947), xytext=(-14, 0), textcoords="offset points",
                ha="right", va="center", fontsize=9, color="#c82020", zorder=7,
                arrowprops=dict(arrowstyle="-|>", color="#e01010", lw=1, shrinkA=1, shrinkB=0))
    ax.annotate("최저 2,070 (03/19)", xy=(127.8, 2082), xytext=(-15, 0), textcoords="offset points",
                ha="right", va="center", fontsize=9, color="#1818a8", zorder=7,
                arrowprops=dict(arrowstyle="-|>", color="#1010c0", lw=1, shrinkA=1, shrinkB=0))
    ax.annotate("배당락(0,00%)", xy=(73, 3263), xytext=(73, 3406), ha="center", va="center",
                fontsize=9.2, color="#444444", zorder=7,
                arrowprops=dict(arrowstyle="-|>", color="#e01010", lw=1, shrinkA=1, shrinkB=0))


def draw_volume_panel(ax):
    style_panel(ax, VOLUME_TICKS, VOLUME_TICK_LABELS, range(0, 6800, 200))
    ax.set_ylim(-45, 6773)

    colors = [RED]
    for previous, current in zip(VOLUMES[:-1], VOLUMES[1:]):
        colors.append(RED if current >= previous else BLUE)
    ax.bar(range(len(VOLUMES)), VOLUMES, width=0.72, color=colors, lw=0, zorder=3)

    ax.plot(VOL_MA120_X, VOL_MA120_Y, color="#808080", lw=1.0, zorder=4)
    ax.plot(VOL_MA60_X, VOL_MA60_Y, color="#2e8b45", lw=1.0, zorder=4)
    ax.plot(VOL_MA20_X, VOL_MA20_Y, color="#efae2e", lw=1.0, zorder=4)
    ax.plot(VOL_MA5_X, VOL_MA5_Y, color="#c835b0", lw=0.9, zorder=4)

    for tick, label in zip([-1.0] + MONTH_TICKS, ["2019/09"] + MONTH_LABELS):
        ax.annotate(label, (max(tick, px_to_position(AXIS_LEFT)), 0), xycoords=ax.get_xaxis_transform(),
                    xytext=(2.5, -6.5), textcoords="offset points", fontsize=8.5, color="#555555",
                    va="center", annotation_clip=False)
    for tick in MONTH_TICKS:
        ax.plot([tick, tick], [0, -0.08], transform=ax.get_xaxis_transform(), clip_on=False,
                color=AXIS_GRAY, lw=1)


def draw_overlay_text(fig):
    # Side strip extras, badges and legends sit in pixel positions around the panels.
    fig_rect(fig, 0, 0, AXIS_LEFT, HEIGHT, facecolor="#e8e8e8", lw=0, zorder=-1)
    fig_rect(fig, 12, 4, 25, 18, facecolor="#e0e0e0", edgecolor="#707070", lw=1)
    fig.add_artist(Line2D([14 / WIDTH, 23 / WIDTH], [1 - 11 / HEIGHT] * 2, color="#707070", lw=1))
    fig_text(fig, 2310, 6, "HC~23,70", fontsize=8.5, color="#3a78c8")

    fig_rect(fig, 2314, 335, WIDTH, 348, facecolor="#e41c0e", lw=0)
    fig_text(fig, 2317, 342, "4,555", fontsize=8.5, color="white")
    fig_text(fig, 2317, 354, "1,00%", fontsize=8.5, color="#d83030")
    fig_rect(fig, 2313, 1023, WIDTH, 1036, facecolor="#e41c0e", lw=0)
    fig_text(fig, 2317, 1029, "1,265K", fontsize=8.5, color="white")
    fig_text(fig, 2317, 1042, "530,93%", fontsize=8.5, color="#d83030")
    fig_text(fig, 2317, 1083, "12/04", fontsize=8.5, color="#555555")

    for row, (label, color) in enumerate(ICHIMOKU_LEGEND):
        fig_text(fig, 2303, 789 + row * 12, label, fontsize=8.9, color=color, ha="right", zorder=8)

    fig_rect(fig, 9, 856, 14, 861, facecolor="#b0b0b0", edgecolor="#707070", lw=0.7)
    for label, x, color in VOLUME_LEGEND:
        fig_text(fig, x, 858, label, fontsize=8.8, color=color)
    fig_text(fig, 11, 871, "1,265,401주(530,93%)", fontsize=8.3, color="#333333")

    fig_rect(fig, 2363, 854, WIDTH, 859, facecolor="#444444", lw=0)
    fig.add_artist(Line2D([0, 1], [1 - 1092 / HEIGHT] * 2, color=AXIS_GRAY, lw=1))


def main() -> None:
    fig = plt.figure(figsize=(WIDTH / 100, HEIGHT / 100), dpi=100, facecolor=SIDE_BG)
    ax_price = add_axes_px(fig, AXIS_LEFT, 0, AXIS_RIGHT, PRICE_BOTTOM)
    ax_volume = add_axes_px(fig, AXIS_LEFT, PRICE_BOTTOM, AXIS_RIGHT, VOLUME_BOTTOM)

    draw_price_panel(ax_price)
    draw_volume_panel(ax_volume)
    draw_overlay_text(fig)

    fig.savefig("out.png", dpi=100, facecolor=fig.get_facecolor())


if __name__ == "__main__":
    main()
